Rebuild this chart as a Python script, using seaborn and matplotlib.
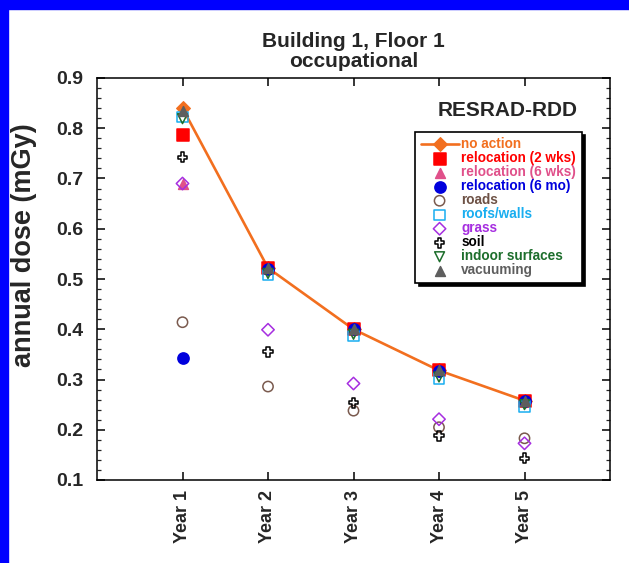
import matplotlib
matplotlib.use("Agg")
import matplotlib.pyplot as plt
import matplotlib.patches as mpatches
from matplotlib.ticker import MultipleLocator, FormatStrFormatter
import numpy as np
import seaborn as sns

# ---- data -------------------------------------------------------------
years = ["Year 1", "Year 2", "Year 3", "Year 4", "Year 5"]
no_action = [0.840, 0.522, 0.400, 0.318, 0.258]
reloc_2wks = [0.786, 0.522, 0.400, 0.318, 0.258]
reloc_6wks = [0.690, 0.522, 0.400, 0.318, 0.258]
reloc_6mo = [0.342, 0.520, 0.400, 0.317, 0.257]
roads = [0.414, 0.286, 0.238, 0.205, 0.183]
roofs_walls = [0.823, 0.508, 0.386, 0.302, 0.246]
grass = [0.690, 0.399, 0.292, 0.221, 0.173]
soil = [0.742, 0.355, 0.254, 0.188, 0.143]
indoor = [0.819, 0.511, 0.390, 0.305, 0.250]
vacuuming = [0.835, 0.521, 0.400, 0.318, 0.258]

# ---- style ------------------------------------------------------------
sns.set_style("ticks")
plt.rcParams["font.family"] = ["Liberation Sans", "DejaVu Sans"]
plt.rcParams["font.weight"] = "bold"

fig = plt.figure(figsize=(6.29, 5.63), dpi=100)
ax = fig.add_axes([97 / 629, 1 - 480 / 563, 513 / 629, 402 / 563])

xpos = np.arange(1, len(years) + 1)

# name, values, marker, size, edge colour, face colour, text colour
series = [
    ("relocation (2 wks)", reloc_2wks, "s", 75, "#ff0000", "#ff0000", "#ff0000"),
    ("relocation (6 wks)", reloc_6wks, "^", 50, "#e0508a", "#e0508a", "#e0508a"),
    ("relocation (6 mo)", reloc_6mo, "o", 65, "#0000dd", "#0000dd", "#0000dd"),
    ("roads", roads, "o", 55, "#7a5a4e", "none", "#6e5246"),
    ("roofs/walls", roofs_walls, "s", 55, "#19aef0", "none", "#19aef0"),
    ("grass", grass, "D", 40, "#a62ee0", "none", "#a62ee0"),
    ("soil", soil, "P", 50, "#000000", "none", "#000000"),
    ("indoor surfaces", indoor, "v", 50, "#1d6e2c", "none", "#1d6e2c"),
    ("vacuuming", vacuuming, "^", 50, "#5e5e5e", "#5e5e5e", "#5e5e5e"),
]

orange = "#f26f1f"
sns.lineplot(x=xpos, y=no_action, ax=ax, color=orange, linewidth=1.9,
             marker="D", markersize=7.5, markeredgecolor=orange,
             label="no action", zorder=3)

for i, (name, vals, mk, s, ec, fc, tc) in enumerate(series):
    sns.scatterplot(x=xpos, y=vals, ax=ax, marker=mk, s=s, color=ec,
                    facecolor=fc, edgecolor=ec, linewidth=1.1,
                    label=name, zorder=4 + i)

# ---- axes -------------------------------------------------------------
ax.set_xlim(0, 6)
ax.set_ylim(0.1, 0.9)
ax.set_xticks(xpos)
ax.set_xticklabels(years, rotation=90, fontsize=13, fontweight="bold")
ax.yaxis.set_major_locator(MultipleLocator(0.1))
ax.yaxis.set_minor_locator(MultipleLocator(0.02))
ax.yaxis.set_major_formatter(FormatStrFormatter("%.1f"))
ax.tick_params(axis="both", which="major", direction="in", length=6,
               width=1.1, top=True, right=True, color="black")
ax.tick_params(axis="y", which="minor", direction="in", length=3,
               width=0.9, right=True, left=True)
ax.tick_params(axis="y", labelsize=14, pad=10)
ax.tick_params(axis="x", pad=7)
for lab in ax.get_yticklabels():
    lab.set_fontweight("bold")
for sp in ax.spines.values():
    sp.set_visible(True)
    sp.set_linewidth(1.1)
    sp.set_color("black")

ax.set_ylabel("annual dose (mGy)", fontsize=19.5, fontweight="bold")
ax.yaxis.set_label_coords(-0.117, 0.585)
ax.set_title("Building 1, Floor 1\noccupational", fontsize=15,
             fontweight="bold", pad=8, linespacing=1.05)

ax.text(0.800, 0.920, "RESRAD-RDD", transform=ax.transAxes, ha="center",
        va="center", fontsize=15, fontweight="bold")

# ---- legend -----------------------------------------------------------
text_colors = [orange] + [t[6] for t in series]
leg = ax.legend(loc="upper left", bbox_to_anchor=(0.620, 0.866),
                fontsize=9.8, frameon=True, fancybox=False,
                shadow={"color": "black", "alpha": 1.0, "ox": 2.5, "oy": -2.5},
                handlelength=2.8, handletextpad=0.2, labelspacing=0.0,
                borderpad=0.4, borderaxespad=0, scatterpoints=1, numpoints=1,
                labelcolor=text_colors)
leg.get_frame().set_edgecolor("black")
leg.get_frame().set_linewidth(1.2)
for t in leg.get_texts():
    t.set_fontweight("bold")

# ---- frame band ------------------------------------------------------
fig.patches.append(mpatches.Rectangle((0, 1 - 9 / 563), 1, 9 / 563,
                                      transform=fig.transFigure,
                                      color="#0000ff", zorder=10))
fig.patches.append(mpatches.Rectangle((0, 0), 8 / 629, 1,
                                      transform=fig.transFigure,
                                      color="#0000ff", zorder=10))

fig.savefig("out.png", dpi=100)
